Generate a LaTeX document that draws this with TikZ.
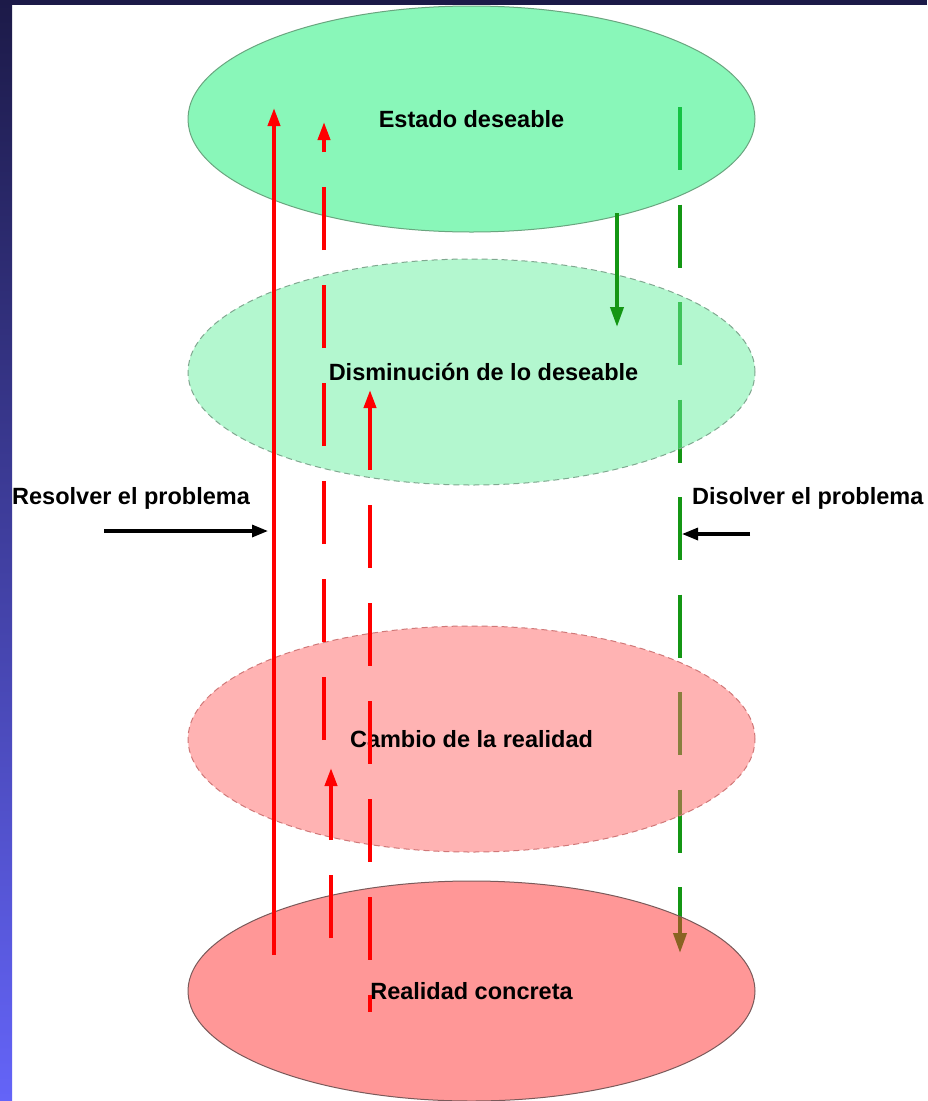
\documentclass[tikz,border=0pt]{standalone}
\usepackage{fontspec}
\setmainfont{Liberation Sans}
\usetikzlibrary{shapes.geometric,arrows.meta}

\definecolor{navytop}{RGB}{28,26,72}
\definecolor{navybot}{RGB}{100,100,248}
\definecolor{verdeA}{RGB}{21,241,117}
\definecolor{verdeB}{RGB}{105,241,161}
\definecolor{rosaC}{RGB}{255,105,105}
\definecolor{rosaD}{RGB}{255,49,49}
\definecolor{bordeA}{RGB}{106,165,127}
\definecolor{bordeB}{RGB}{128,168,144}
\definecolor{bordeC}{RGB}{208,120,120}
\definecolor{bordeD}{RGB}{122,90,90}
\definecolor{verde}{RGB}{20,150,20}

\begin{document}
\begin{tikzpicture}[x=1pt,y=-1pt,
    zona/.style={ellipse, minimum width=567pt, minimum height=226pt, inner sep=0pt,
        fill opacity=.5, text opacity=1, line width=1pt,
        font=\bfseries\fontsize{23.5}{28}\selectfont},
    etiqueta/.style={inner sep=0pt, anchor=west, font=\bfseries\fontsize{23.5}{28}\selectfont},
    flecha/.style={line width=3.8pt, -{Triangle[length=18pt,width=12pt]}},
    negra/.style={line width=3.2pt, -{Triangle[length=16pt,width=12pt]}},
    trazo/.style={dash pattern=on 63pt off 35pt}]

                \useasboundingbox (0,0) rectangle (927,1101);
                \fill[white] (0,0) rectangle (927,1101);
                \shade[top color=navytop, bottom color=navybot] (0,0) rectangle (12,1101);
                \fill[navytop] (0,0) rectangle (927,5);

                % extremos de las flechas
                \coordinate (r1a) at (274,955);  \coordinate (r1b) at (274,108);
                \coordinate (r2a) at (324,740);  \coordinate (r2b) at (324,122);
                \coordinate (r3a) at (331,938);  \coordinate (r3b) at (331,768);
                \coordinate (r4a) at (370,1012); \coordinate (r4b) at (370,390);
                \coordinate (g1a) at (680,107);  \coordinate (g1b) at (680,953);
                \coordinate (g2a) at (617,213);  \coordinate (g2b) at (617,327);
                \coordinate (ra) at (104,531);   \coordinate (rb) at (268,531);
                \coordinate (da) at (750,534);   \coordinate (db) at (682,534);

                % disolver: queda debajo de las elipses
                \draw[flecha, verde, dash pattern=on 63pt off 34.5pt,
                    -{Triangle[length=20pt,width=13pt]}] (g1a) -- (g1b);

                \node[zona, fill=verdeA, draw=bordeA] (deseable) at (471.5,119) {Estado deseable};
                \node[zona, fill=verdeB, draw=bordeB, dash pattern=on 6pt off 4pt] (disminucion) at (471.5,372) {};
                \node[zona, fill=rosaC, draw=bordeC, dash pattern=on 6pt off 4pt] (cambio) at (471.5,739) {Cambio de la realidad};
                \node[zona, fill=rosaD, draw=bordeD, minimum height=220pt] (realidad) at (471.5,991) {Realidad concreta};
                \node[font=\bfseries\fontsize{23.5}{28}\selectfont, inner sep=0pt] (txtdism)
                    at ([xshift=12pt]disminucion.center) {Disminución de lo deseable};

                % resolver
                \draw[flecha, red] (r1a) -- (r1b);
                \draw[flecha, red, trazo] (r2a) -- (r2b);
                \draw[flecha, red, trazo] (r3a) -- (r3b);
                \draw[line width=3.8pt, red, trazo, {Triangle[length=18pt,width=12pt]}-] (r4b) -- (r4a);

                \draw[flecha, verde, -{Triangle[length=20pt,width=13pt]}] (g2a) -- (g2b);

                \node[etiqueta] (resolver) at (12,498) {Resolver el problema};
                \node[etiqueta] (disolver) at (692,498) {Disolver el problema};

                \draw[negra] (ra) -- (rb);
                \draw[negra] (da) -- (db);
            \end{tikzpicture}
\end{document}
